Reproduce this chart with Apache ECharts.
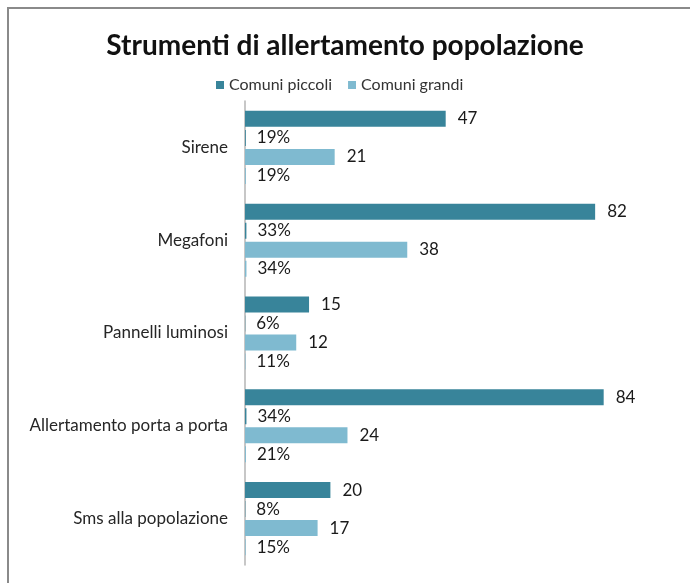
<!DOCTYPE html>
<html>
<head>
<meta charset="utf-8">
<script src="https://cdn.jsdelivr.net/npm/echarts@6/dist/echarts.min.js"></script>
<style>
  html, body { margin: 0; padding: 0; background: #fff; }
  #chart { width: 690px; height: 583px; }
</style>
</head>
<body>
<div id="chart"></div>
<script>
// Alert tools used by municipalities: counts and shares for small and large municipalities
const categories = ['Sirene', 'Megafoni', 'Pannelli luminosi', 'Allertamento porta a porta', 'Sms alla popolazione'];
const piccoliCount = [47, 82, 15, 84, 20];
const piccoliPct = [19, 33, 6, 34, 8];
const grandiCount = [21, 38, 12, 24, 17];
const grandiPct = [19, 34, 11, 21, 15];

const DARK = '#38849a';
const LIGHT = '#7fbad0';
const FONT = 'Lato, "Open Sans", sans-serif';

const chart = echarts.init(document.getElementById('chart'), null, { renderer: 'canvas' });

function countSeries(name, data, color) {
  return {
    name: name,
    type: 'bar',
    data: data,
    barWidth: 16,
    barGap: '19%',
    itemStyle: { color: color },
    label: {
      show: true, position: 'right', distance: 12,
      fontFamily: FONT, fontSize: 17, color: '#1a1a1a'
    }
  };
}

function pctSeries(name, data, color) {
  return {
    name: name,
    type: 'bar',
    // shares drawn on the same scale as the counts (fraction of one unit)
    data: data.map(v => ({ value: v / 100, pct: v })),
    barWidth: 16,
    barGap: '19%',
    itemStyle: { color: color },
    label: {
      show: true, position: 'right', distance: 11,
      fontFamily: FONT, fontSize: 17, color: '#1a1a1a',
      formatter: p => p.data.pct + '%'
    }
  };
}

chart.setOption({
  animation: false,
  backgroundColor: '#fff',
  title: {
    text: 'Strumenti di allertamento popolazione',
    left: 'center',
    top: 27,
    textStyle: { fontFamily: FONT, fontSize: 28, fontWeight: 'bold', color: '#111' }
  },
  legend: {
    data: ['Comuni piccoli', 'Comuni grandi'],
    left: 211,
    top: 72,
    icon: 'rect',
    itemWidth: 8,
    itemHeight: 8,
    itemGap: 16,
    textStyle: { fontFamily: FONT, fontSize: 16, color: '#333' }
  },
  graphic: [{
    type: 'rect',
    shape: { x: 8, y: 8, width: 720, height: 620 },
    style: { fill: null, stroke: '#8a8a8a', lineWidth: 2 },
    silent: true
  }],
  grid: { left: 245, right: 18, top: 101, bottom: 18 },
  xAxis: {
    type: 'value', min: 0, max: 100,
    show: false
  },
  yAxis: {
    type: 'category',
    data: categories,
    inverse: true,
    axisLine: { show: true, lineStyle: { color: '#b4b4b4', width: 1.5 } },
    axisTick: { show: false },
    axisLabel: { margin: 17, fontFamily: FONT, fontSize: 17, color: '#262626' }
  },
  series: [
    countSeries('Comuni piccoli', piccoliCount, DARK),
    pctSeries('Comuni piccoli (%)', piccoliPct, DARK),
    countSeries('Comuni grandi', grandiCount, LIGHT),
    pctSeries('Comuni grandi (%)', grandiPct, LIGHT)
  ]
});
</script>
</body>
</html>
